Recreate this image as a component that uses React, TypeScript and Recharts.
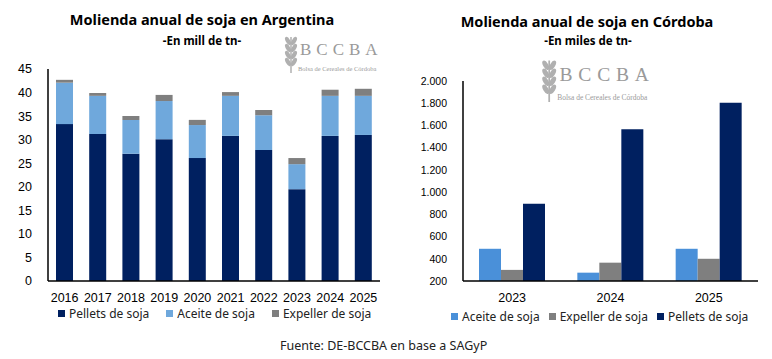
import { BarChart, Bar, XAxis, YAxis } from 'recharts';

const years = ['2016', '2017', '2018', '2019', '2020', '2021', '2022', '2023', '2024', '2025'];
const pellets = [33.3, 31.2, 27.0, 30.1, 26.1, 30.8, 27.8, 19.5, 30.8, 31.0];
const aceite = [8.8, 8.1, 7.2, 8.1, 7.0, 8.5, 7.4, 5.3, 8.5, 8.3];
const expeller = [0.6, 0.6, 0.8, 1.3, 1.1, 0.8, 1.1, 1.3, 1.3, 1.5];
const argTicks = [0, 5, 10, 15, 20, 25, 30, 35, 40, 45];

const cbaYears = ['2023', '2024', '2025'];
const cbaAceite = [490, 275, 490];
const cbaExpeller = [300, 365, 400];
const cbaPellets = [895, 1565, 1805];
const cbaTicks = [200, 400, 600, 800, 1000, 1200, 1400, 1600, 1800, 2000];

const NAVY = '#002060';
const LIGHT = '#6fa8dc';
const LIGHT2 = '#4a90d9';
const GREY = '#7f7f7f';

const argData = years.map((y, i) => ({ year: y, pellets: pellets[i], aceite: aceite[i], expeller: expeller[i] }));
const cbaData = cbaYears.map((y, i) => ({ year: y, aceite: cbaAceite[i], expeller: cbaExpeller[i], pellets: cbaPellets[i] }));

const argLegend = [
  { name: 'Pellets de soja', color: NAVY },
  { name: 'Aceite de soja', color: LIGHT },
  { name: 'Expeller de soja', color: GREY },
];
const cbaLegend = [
  { name: 'Aceite de soja', color: LIGHT2 },
  { name: 'Expeller de soja', color: GREY },
  { name: 'Pellets de soja', color: NAVY },
];

const tickFont = { fontFamily: 'Liberation Sans, Arial, sans-serif', fill: '#000' };
const uiFont = 'Noto Sans, sans-serif';

const fmtMiles = (v: number) => String(v).replace(/\B(?=(\d{3})+(?!\d))/g, '.');

function LegendRow({ items, gap, left, top }: any) {
  return (
    <div style={{ position: 'absolute', left, top, display: 'flex', gap, fontFamily: uiFont, fontSize: 12, color: '#222', whiteSpace: 'nowrap' }}>
      {items.map((p: any) => (
        <div key={p.name} style={{ display: 'flex', alignItems: 'center' }}>
          <span style={{ width: 7, height: 7, background: p.color, marginRight: 4, display: 'inline-block' }} />
          <span>{p.name}</span>
        </div>
      ))}
    </div>
  );
}

function Logo({ x, y, scale }: { x: number; y: number; scale: number }) {
  const leaves = [0, 1, 2, 3];
  return (
    <div style={{ position: 'absolute', left: x, top: y, transform: `scale(${scale})`, transformOrigin: '0 0', color: '#9a9a9a' }}>
      <svg width={16} height={40} style={{ position: 'absolute', left: 0, top: 0 }}>
        {leaves.map((k) => (
          <g key={k}>
            <ellipse cx={5} cy={8 + k * 7} rx={2.2} ry={4.5} transform={`rotate(-30 5 ${8 + k * 7})`} fill="#b0b0b0" />
            <ellipse cx={11} cy={8 + k * 7} rx={2.2} ry={4.5} transform={`rotate(30 11 ${8 + k * 7})`} fill="#b0b0b0" />
          </g>
        ))}
        <line x1={8} y1={4} x2={8} y2={40} stroke="#b0b0b0" strokeWidth={1.5} />
      </svg>
      <div style={{ position: 'absolute', left: 17, top: 8, fontFamily: 'Liberation Serif, serif', fontSize: 17, letterSpacing: 5, whiteSpace: 'nowrap', lineHeight: '17px' }}>
        BCCBA
      </div>
      <div style={{ position: 'absolute', left: 15, top: 32, fontFamily: 'Liberation Serif, serif', fontSize: 6.5, whiteSpace: 'nowrap', lineHeight: '8px' }}>
        Bolsa de Cereales de Córdoba
      </div>
    </div>
  );
}

const titleStyle = (cx: number, top: number, size: number): React.CSSProperties => ({
  position: 'absolute',
  left: cx - 200,
  width: 400,
  top,
  textAlign: 'center',
  fontFamily: uiFont,
  fontWeight: 700,
  fontSize: size,
  color: '#000',
  lineHeight: 1,
  whiteSpace: 'nowrap',
});

export default function App() {
  return (
    <div style={{ position: 'absolute', left: 0, top: 0, width: 772, height: 359, background: '#fff', overflow: 'hidden' }}>
      <div style={titleStyle(202, 12, 14.5)}>Molienda anual de soja en Argentina</div>
      <div style={titleStyle(202, 35, 11.5)}>-En mill de tn-</div>
      <div style={titleStyle(587, 14, 14.5)}>Molienda anual de soja en Córdoba</div>
      <div style={titleStyle(588, 35, 11.5)}>-En miles de tn-</div>

      <Logo x={283} y={33} scale={1} />
      <Logo x={540} y={56} scale={1.15} />

      <div style={{ position: 'absolute', left: 0, top: 0 }}>
        <BarChart width={390} height={320} data={argData} margin={{ top: 69, right: 10, left: 0, bottom: 20 }} barSize={17} barCategoryGap={8}>
          <XAxis dataKey="year" tickLine={false} axisLine={{ stroke: '#000', strokeWidth: 1.5 }} tick={{ ...tickFont, fontSize: 12.5 }} tickMargin={6} height={19} interval={0} />
          <YAxis domain={[0, 45]} ticks={argTicks} width={48} tickLine={false} axisLine={{ stroke: '#000', strokeWidth: 1.5 }} tick={{ ...tickFont, fontSize: 12.5 }} tickMargin={10} />
          <Bar dataKey="pellets" name="Pellets de soja" stackId="a" fill={NAVY} isAnimationActive={false} />
          <Bar dataKey="aceite" name="Aceite de soja" stackId="a" fill={LIGHT} isAnimationActive={false} />
          <Bar dataKey="expeller" name="Expeller de soja" stackId="a" fill={GREY} isAnimationActive={false} />
        </BarChart>
      </div>
      <LegendRow items={argLegend} gap={17} left={58} top={305} />

      <div style={{ position: 'absolute', left: 390, top: 0 }}>
        <BarChart width={382} height={320} data={cbaData} margin={{ top: 81, right: 14, left: 0, bottom: 20 }} barSize={22} barGap={0} barCategoryGap={16}>
          <XAxis dataKey="year" tickLine={false} axisLine={{ stroke: '#000', strokeWidth: 1.5 }} tick={{ ...tickFont, fontSize: 12.5 }} tickMargin={6} height={19} />
          <YAxis domain={[200, 2000]} ticks={cbaTicks} width={73} tickLine={false} axisLine={{ stroke: '#000', strokeWidth: 1.5 }} tick={{ ...tickFont, fontSize: 10.5 }} tickMargin={10} tickFormatter={fmtMiles} allowDataOverflow />
          <Bar dataKey="aceite" name="Aceite de soja" fill={LIGHT2} isAnimationActive={false} />
          <Bar dataKey="expeller" name="Expeller de soja" fill={GREY} isAnimationActive={false} />
          <Bar dataKey="pellets" name="Pellets de soja" fill={NAVY} isAnimationActive={false} />
        </BarChart>
      </div>
      <LegendRow items={cbaLegend} gap={9} left={451} top={308} />

      <div style={{ position: 'absolute', left: 280, top: 337, fontFamily: uiFont, fontSize: 12.5, color: '#222', whiteSpace: 'nowrap' }}>
        Fuente: DE-BCCBA en base a SAGyP
      </div>
    </div>
  );
}
